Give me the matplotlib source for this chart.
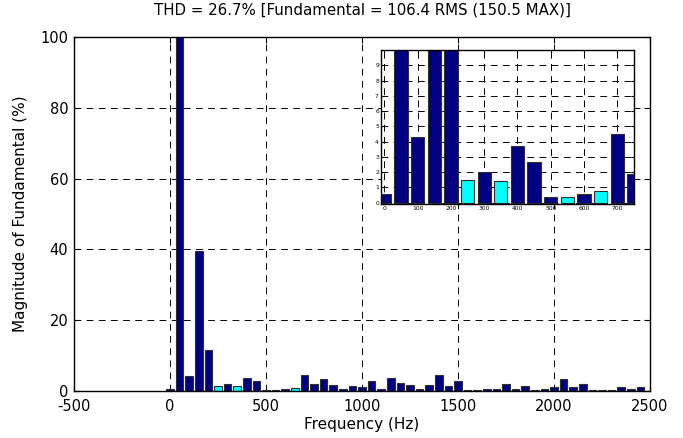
import numpy as np
import matplotlib
matplotlib.use('Agg')
import matplotlib.pyplot as plt

plt.rcParams['font.family'] = ['DejaVu Sans']
plt.rcParams['axes.unicode_minus'] = False

# harmonic spectrum, 50 Hz steps
freq = np.arange(0, 2500, 50)
mag = [0.6, 100, 4.3, 39.6, 11.7, 1.5, 2.0, 1.45, 3.7, 2.7,
       0.4, 0.35, 0.6, 0.75, 4.5, 1.9, 3.3, 1.8, 0.7, 1.4,
       1.0, 2.9, 0.7, 3.7, 2.3, 1.8, 0.7, 1.8, 4.6, 1.4,
       2.9, 0.4, 0.4, 0.6, 0.6, 1.9, 0.7, 1.5, 0.4, 0.7,
       1.1, 3.4, 1.1, 1.9, 0.4, 0.4, 0.4, 1.1, 0.7, 1.1]
cyan_freqs = [250, 350, 550, 650]

title = 'THD = 26.7% [Fundamental = 106.4 RMS (150.5 MAX)]'
xticks = [-500, 0, 500, 1000, 1500, 2000, 2500]
yticks = [0, 20, 40, 60, 80, 100]
inset_xticks = [0, 100, 200, 300, 400, 500, 600, 700]
inset_yticks = list(range(10))

colors = ['#00ffff' if f in cyan_freqs else '#000080' for f in freq]
dash = (0, (7, 5.5))

fig = plt.figure(figsize=(6.83, 4.38), dpi=100)
ax = fig.add_axes([0.1083, 0.1073, 0.8433, 0.8082])
ax.bar(freq, mag, width=40, color=colors, edgecolor='#303030', linewidth=0.8, zorder=2)
ax.set_xlim(-500, 2500)
ax.set_ylim(0, 100)
ax.set_xticks(xticks)
ax.set_yticks(yticks)
ax.grid(True, color='black', linestyle=dash, linewidth=0.7, zorder=0)
ax.set_axisbelow(True)
ax.tick_params(direction='in', top=True, right=True, labelsize=10.5, length=4)
ax.tick_params(axis='x', pad=6)
ax.tick_params(axis='y', pad=4)
ax.set_xlabel('Frequency (Hz)', fontsize=11)
ax.xaxis.set_label_coords(0.5, -0.096)
ax.xaxis.label.set_va('center')
ax.set_ylabel('Magnitude of Fundamental (%)', fontsize=11)
ax.yaxis.set_label_coords(-0.092, 0.5)
ax.yaxis.label.set_va('center')
fig.text(362 / 683, 1 - 10 / 438, title, fontsize=10.8, ha='center', va='center')
for s in ax.spines.values():
    s.set_linewidth(1.0)

# zoomed inset
ins = fig.add_axes([0.5578, 0.5336, 0.3704, 0.3523])
ins.bar(freq, mag, width=40, color=colors, edgecolor='#303030', linewidth=0.8, zorder=2)
ins.set_xlim(-10, 750)
ins.set_ylim(-0.1, 10)
ins.set_xticks(inset_xticks)
ins.set_yticks(inset_yticks)
ins.grid(True, color='black', linestyle=dash, linewidth=0.7, zorder=0)
ins.set_axisbelow(True)
ins.tick_params(direction='in', top=True, right=True, labelsize=4.3, length=2.5, pad=1.5)
for s in ins.spines.values():
    s.set_linewidth(1.0)

fig.savefig('out.png', dpi=100)
